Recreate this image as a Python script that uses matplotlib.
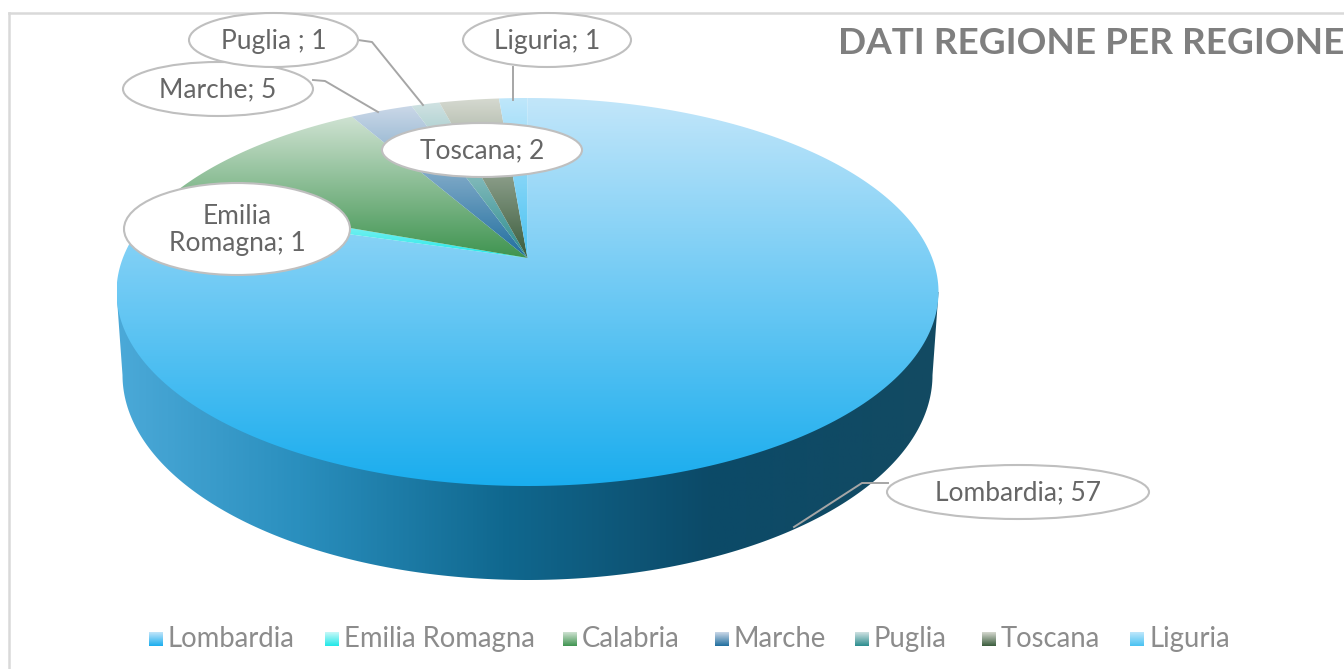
import numpy as np
import matplotlib
matplotlib.use("Agg")
import matplotlib.pyplot as plt
from matplotlib.colors import LinearSegmentedColormap
from matplotlib.patches import Ellipse, Polygon, Rectangle

plt.rcParams['font.family'] = ['Lato', 'DejaVu Sans']

regions = ['Lombardia', 'Emilia Romagna', 'Calabria', 'Marche', 'Puglia', 'Toscana', 'Liguria']
# printed labels, as they are in the picture (Calabria has none)
label_text = ['Lombardia; 57', 'Emilia\nRomagna; 1', None, 'Marche; 5', 'Puglia ; 1', 'Toscana; 2', 'Liguria; 1']
# wedge sizes read from the drawn wedges, they do not all agree with the printed labels
slice_values = [57.2, 0.8, 8.0, 2.1, 0.95, 2.0, 0.95]

color_top = ['#C2E6FA', '#C8F8F8', '#CFE2D2', '#CBD8E8', '#D0E2E2', '#D6D9D0', '#BFE7FB']
color_bottom = ['#1AADEE', '#1FE8E8', '#3F9450', '#1F6E9E', '#2A8C8E', '#3A5C3C', '#48C2F2']

wall_stops = ['#4BA9D8', '#2A8FBE', '#10688F', '#0C4A68', '#134A62']

# geometry of the top face in pixels
cx, cy, rx, ry = 527.5, 292.0, 411.0, 194.0
apex_y = 258.0
tilt = (cy - apex_y) / ry
depth_cy, depth_rx, depth_ry = 375.0, 405.0, 205.0


def project(angle):
    # clockwise from the top, the centre of the pie lands above the middle of the ellipse
    u, v = np.sin(angle), np.cos(angle)
    w = 1 + tilt * v
    x = cx + rx * np.sqrt(1 - tilt ** 2) * u / w
    y = cy - ry * (v + tilt) / w
    return x, y


def gradient_fill(ax, patch, c1, c2, horizontal=False, zorder=2):
    # paint a two colour gradient over the box of the patch and clip it
    ax.add_patch(patch)
    pts = patch.get_xy()
    x0, x1, y0, y1 = pts[:, 0].min(), pts[:, 0].max(), pts[:, 1].min(), pts[:, 1].max()
    cmap = LinearSegmentedColormap.from_list('g', [c1, c2])
    g = np.linspace(0, 1, 256)
    g = g.reshape(1, -1) if horizontal else g.reshape(-1, 1)
    im = ax.imshow(g, cmap=cmap, extent=[x0, x1, y1, y0], aspect='auto', zorder=zorder, interpolation='bilinear')
    im.set_clip_path(patch)


fig = plt.figure(figsize=(13.44, 6.69), dpi=100)
ax = fig.add_axes([0, 0, 1, 1])

# chart frame
ax.plot([9, 9], [669, 13], color='#D9D9D9', lw=1.8, zorder=1)
ax.plot([9, 1344], [13, 13], color='#D9D9D9', lw=1.8, zorder=1)

# side wall
t = np.linspace(np.pi, 0, 200)
wall_x = np.r_[cx - rx, cx + depth_rx * np.cos(t), cx + rx]
wall_y = np.r_[cy, depth_cy + depth_ry * np.sin(t), cy]
wall = Polygon(np.c_[wall_x, wall_y], closed=True, fc='none', ec='none')
ax.add_patch(wall)
wall_cmap = LinearSegmentedColormap.from_list('wall', list(zip([0, 0.22, 0.47, 0.72, 1], wall_stops)))
im = ax.imshow(np.linspace(0, 1, 512).reshape(1, -1), cmap=wall_cmap, aspect='auto', zorder=2,
               extent=[cx - rx, cx + rx, 590, 280])
im.set_clip_path(wall)

# top face wedges
edges = np.r_[0, np.cumsum(slice_values)] / np.sum(slice_values) * 2 * np.pi
for i in range(len(regions)):
    a = np.linspace(edges[i], edges[i + 1], 300)
    x, y = project(a)
    x = np.r_[cx, x]
    y = np.r_[apex_y, y]
    wedge = Polygon(np.c_[x, y], closed=True, fc='none', ec='none')
    gradient_fill(ax, wedge, color_top[i], color_bottom[i], zorder=3)

# leader lines
leader = dict(color='#A6A6A6', lw=1.4, zorder=4)
ax.plot([358, 372, 423], [40, 42, 105], **leader)
ax.plot([313, 325, 378], [80, 81, 112], **leader)
ax.plot([513, 513], [67, 100], **leader)
ax.plot([794, 862, 888], [527, 483, 483], **leader)

# data labels in white ellipses
bubbles = {0: (1018, 492, 262, 54), 1: (237, 229, 226, 92), 3: (218, 89, 190, 54),
           4: (273.5, 40, 169, 54), 5: (482, 150, 200, 54), 6: (547, 40, 168, 54)}
for i, (bx, by, bw, bh) in bubbles.items():
    ax.add_patch(Ellipse((bx, by), bw, bh, fc='white', ec='#BFBFBF', lw=1.5, zorder=5))
    ax.text(bx, by + 1, label_text[i], ha='center', va='center', fontsize=19,
            color='#666666', linespacing=1.1, zorder=6)

# legend
swatch_x = [149, 325, 563, 715, 855, 982, 1130]
for i, name in enumerate(regions):
    sw = Rectangle((swatch_x[i], 632), 14, 14, fc='none', ec='none')
    sw_poly = Polygon(sw.get_corners(), closed=True, fc='none', ec='none')
    gradient_fill(ax, sw_poly, color_top[i], color_bottom[i], zorder=3)
    ax.text(swatch_x[i] + 19, 639, name, ha='left', va='center', fontsize=19.8,
            color='#8C8C8C')

ax.text(838, 44, 'DATI REGIONE PER REGIONE', ha='left', va='center', fontsize=26.6, fontweight='bold',
        color='#7F7F7F')

ax.set_xlim(0, 1344)
ax.set_ylim(669, 0)
ax.axis('off')

fig.savefig('out.png', dpi=100)
